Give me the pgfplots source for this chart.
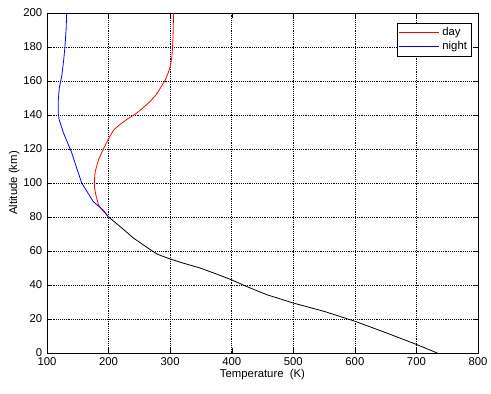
\documentclass[border=0pt]{standalone}
\usepackage{fontspec}
\setmainfont{Liberation Sans}
\usepackage{pgfplots}
\pgfplotsset{compat=1.18}
\begin{document}
\begin{tikzpicture}[x=1pt,y=1pt]
\begin{axis}[name=ax,
  scale only axis, width=323.25pt, height=255pt,
  xmin=100, xmax=800, ymin=0, ymax=200,
  xtick={100,200,...,800}, ytick={0,20,...,200},
  tick align=inside, tick pos=both,
  major tick length=4pt,
  grid=major,
  grid style={black, densely dotted, line width=0.4pt},
  axis line style={black, line width=0.5pt},
  tick style={black},
  /pgf/number format/assume math mode=true,
  ticklabel style={font=\fontsize{8.5}{10}\selectfont},
  label style={font=\fontsize{8.5}{10}\selectfont},
  xlabel={Temperature\ \ (K)}, ylabel={Altitude (km)},
  xlabel style={yshift=4pt},
  ylabel style={yshift=-4pt},
  legend style={at={(0.986,0.972)}, anchor=north east, draw=black, line width=0.5pt,
    font=\fontsize{8.5}{10}\selectfont, inner sep=1.5pt, row sep=-1pt},
  legend cell align=left,
  legend image code/.code={\draw[#1] (0pt,0pt) -- (30pt,0pt);},
]
\addplot[red, line width=0.6pt] coordinates {
(200,80) (190,84) (183.5,87.2) (179.7,92.4) (177.3,97) (177,100) (177.5,104) (178.5,107) (180.8,110) (184,114) (189,118) (195,122.5) (202.4,127.7) (209,131.5) (218.7,134.5) (230,137.5) (243,140.4) (252,143) (260,145.5) (268,148.2) (275.6,151.2) (281,154) (286,157) (291.9,160.5) (296,164) (299,167) (301.5,171) (303,175) (303.8,179.4) (304.6,185) (305,190) (305.5,200)};
\addlegendentry{day}
\addplot[blue, line width=0.6pt] coordinates {
(200,80) (191.5,84) (175.3,89) (165,95) (156.4,100) (148,109) (140,118) (133,124) (126.5,129.7) (120,137) (118.4,140.4) (118.4,149) (120,156) (124,163) (127,172) (129,179.4) (131,190) (132,200)};
\addlegendentry{night}
\addplot[black, line width=0.6pt, forget plot] coordinates {
(733.7,0) (701,4.9) (650,12) (600.8,18.6) (550,24.5) (500,29.4) (457,34.3) (425,39) (400,43) (375,46.5) (348.7,50) (320,53) (300,55.3) (280,58) (267.5,60.8) (255,64) (240.4,67.6) (220,74) (200,80)};
\end{axis}
\pgfresetboundingbox
\path[use as bounding box] ([shift={(-35.25pt,-30pt)}]ax.south west) rectangle ([shift={(9.75pt,9.75pt)}]ax.north east);
\end{tikzpicture}
\end{document}
